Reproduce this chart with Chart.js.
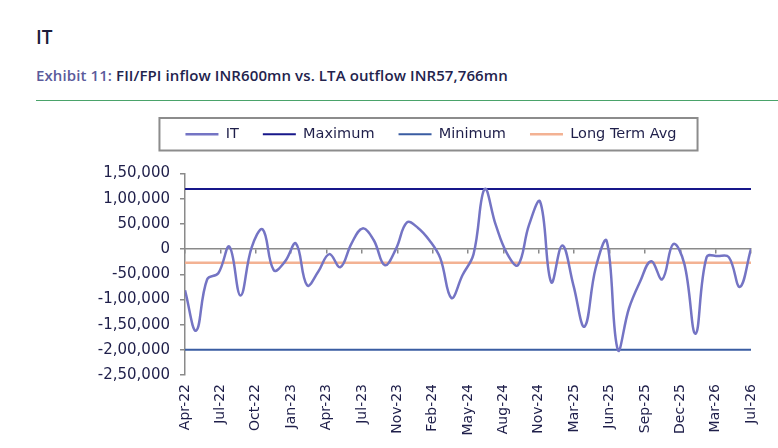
<!DOCTYPE html>
<html>
<head>
<meta charset="utf-8">
<script src="https://cdn.jsdelivr.net/npm/chart.js@4.4.0/dist/chart.umd.min.js"></script>
<style>
  body { margin: 0; background: #fff; font-family: "Open Sans", sans-serif; }
  .title { position: absolute; left: 36px; top: 24px; font-size: 19px; font-weight: 600; color: #1d1d3b; }
  .sub { position: absolute; left: 36px; top: 65px; font-size: 15px; font-weight: 600; letter-spacing: 0.1px; color: #23234d; }
  .sub span { color: #5b5b9b; }
  .rule { position: absolute; left: 36px; right: 0; top: 100px; border-top: 1.5px solid #4aa36a; }
  #wrap { position: absolute; left: 91px; top: 103px; width: 680px; height: 341px; }
</style>
</head>
<body>
<div class="title">IT</div>
<div class="sub"><span>Exhibit 11:</span> FII/FPI inflow INR600mn vs. LTA outflow INR57,766mn</div>
<div class="rule"></div>
<div id="wrap"><canvas id="itChart"></canvas></div>
<script>
// monthly FII/FPI flows, INR mn
const months = [
  'Apr-22', 'May-22', 'Jun-22', 'Jul-22', 'Aug-22', 'Sep-22', 'Oct-22', 'Nov-22', 'Dec-22', 'Jan-23', 'Feb-23', 'Mar-23',
  'Apr-23', 'May-23', 'Jun-23', 'Jul-23', 'Aug-23', 'Sep-23', 'Oct-23', 'Nov-23', 'Dec-23', 'Jan-24', 'Feb-24', 'Mar-24',
  'Apr-24', 'May-24', 'Jun-24', 'Jul-24', 'Aug-24', 'Sep-24', 'Oct-24', 'Nov-24', 'Dec-24', 'Jan-25', 'Feb-25', 'Mar-25',
  'Apr-25', 'May-25', 'Jun-25', 'Jul-25', 'Aug-25', 'Sep-25', 'Oct-25', 'Nov-25', 'Dec-25', 'Jan-26', 'Feb-26', 'Mar-26',
  'Apr-26', 'May-26', 'Jun-26', 'Jul-26'
];
const itValues = [
  -82000, -162000, -60000, -48000, 5000, -92000, 3000, 39000, -42000, -25000, 11000, -72000,
  -45000, -10000, -36000, 11000, 41000, 18000, -32000, 0, 53000, 42000, 18000, -18000,
  -97000, -52000, -10000, 119000, 48000, -8000, -32000, 48000, 94000, -66000, 7000, -72000,
  -154000, -38000, 16000, -200000, -118000, -65000, -24000, -60000, 10000, -30000, -168000, -16000,
  -14000, -16000, -75000, 600
];
const maximum = 119000;
const minimum = -200000;
const longTermAvg = -27000;

const tickLabels = [
  'Apr-22', 'Jul-22', 'Oct-22', 'Jan-23', 'Apr-23', 'Jul-23', 'Nov-23', 'Feb-24', 'May-24',
  'Aug-24', 'Nov-24', 'Mar-25', 'Jun-25', 'Sep-25', 'Dec-25', 'Mar-26', 'Jul-26'
];
const yMin = -250000, yMax = 150000, yStep = 50000;

const last = months.length - 1;
const flat = (v) => [{ x: 0, y: v }, { x: last, y: v }];

// 1,50,000 style grouping
function fmtIN(v) {
  const neg = v < 0;
  let s = String(Math.abs(Math.round(v)));
  if (s.length > 3) {
    let head = s.slice(0, -3);
    const tail = s.slice(-3);
    const parts = [];
    while (head.length > 2) { parts.unshift(head.slice(-2)); head = head.slice(0, -2); }
    if (head) parts.unshift(head);
    s = parts.join(',') + ',' + tail;
  }
  return (neg ? '-' : '') + s;
}

// extra room under the legend, and nudge it right a little
const legendGap = {
  id: 'legendGap',
  beforeInit(chart) {
    const fit = chart.legend.fit;
    chart.legend.fit = function () {
      fit.call(this);
      this.height += 22;
    };
  },
  afterLayout(chart) {
    chart.legend.left += 10;
    chart.legend.right += 10;
  }
};

// grey frame round the legend items
const legendBox = {
  id: 'legendBox',
  afterDraw(chart) {
    const hb = chart.legend.legendHitBoxes;
    if (!hb || !hb.length) return;
    const l = Math.min(...hb.map(h => h.left)) - 26;
    const r = Math.max(...hb.map(h => h.left + h.width)) + 21;
    const t = hb[0].top - 9;
    const b = hb[0].top + hb[0].height + 9;
    const c = chart.ctx;
    c.save();
    c.strokeStyle = '#8c8c8c';
    c.lineWidth = 2;
    c.strokeRect(l, t, r - l, b - t);
    c.restore();
  }
};

const textColor = '#1f1f4a';

new Chart(document.getElementById('itChart'), {
  type: 'line',
  data: {
    datasets: [
      { label: 'IT', data: itValues.map((v, i) => ({ x: i, y: v })), borderColor: '#7474c4', backgroundColor: '#7474c4', borderWidth: 2.5, tension: 0.4 },
      { label: 'Maximum', data: flat(maximum), borderColor: '#17178a', backgroundColor: '#17178a', borderWidth: 2 },
      { label: 'Minimum', data: flat(minimum), borderColor: '#3a5ca2', backgroundColor: '#3a5ca2', borderWidth: 2 },
      { label: 'Long Term Avg', data: flat(longTermAvg), borderColor: '#f3b293', backgroundColor: '#f3b293', borderWidth: 2.5 }
    ]
  },
  options: {
    animation: false,
    responsive: true,
    maintainAspectRatio: false,
    elements: { point: { radius: 0 } },
    layout: { padding: { right: 20 } },
    plugins: {
      legend: {
        labels: {
          usePointStyle: true, pointStyle: 'line', pointStyleWidth: 33,
          color: textColor, font: { family: 'DejaVu Sans', size: 14.5 }, padding: 24
        }
      },
      tooltip: { enabled: false }
    },
    scales: {
      x: {
        type: 'linear', min: 0, max: last, position: 'bottom',
        border: { display: false },
        grid: { display: false, drawTicks: false },
        ticks: {
          count: 17, autoSkip: false, minRotation: 90, maxRotation: 90, padding: 9,
          color: textColor, font: { family: 'DejaVu Sans', size: 14 },
          callback: (v, i) => tickLabels[i]
        },
        afterFit(scale) {
          scale.height = 69;
          scale.paddingLeft = 0;
          scale.paddingRight = 0;
        }
      },
      x0: {
        type: 'linear', axis: 'x', min: 0, max: last, position: { y: 0 },
        border: { color: '#8a8a8a', width: 1.5 },
        grid: { drawOnChartArea: false, tickLength: 4, color: '#8a8a8a', lineWidth: 1.5 },
        ticks: { count: 17, display: false }
      },
      y: {
        min: yMin, max: yMax,
        border: { color: '#8a8a8a', width: 1.5 },
        grid: { drawOnChartArea: false, tickLength: 5, color: '#8a8a8a', lineWidth: 1.5 },
        ticks: { stepSize: yStep, padding: 10, color: textColor, font: { family: 'DejaVu Sans', size: 15 }, callback: fmtIN },
        afterFit(scale) { scale.width = 94; }
      }
    }
  },
  plugins: [legendGap, legendBox]
});
</script>
</body>
</html>
